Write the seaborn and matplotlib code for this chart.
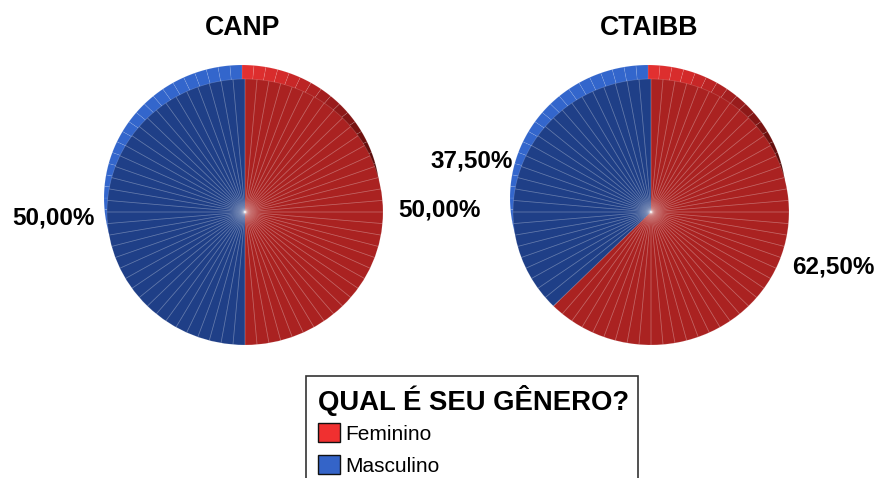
import matplotlib
matplotlib.use("Agg")
import matplotlib.pyplot as plt
import seaborn as sns
from matplotlib.colors import LinearSegmentedColormap
from matplotlib.patches import Patch, Rectangle

# data
titles = ["CANP", "CTAIBB"]
categories = ["Feminino", "Masculino"]
canp_values = [50.0, 50.0]
ctaibb_values = [62.5, 37.5]
canp_labels = ["50,00%", "50,00%"]
ctaibb_labels = ["62,50%", "37,50%"]
legend_title = "QUAL É SEU GÊNERO?"

W, H = 877, 478
sns.set_theme(style="white")
plt.rcParams["font.family"] = ["Liberation Sans", "DejaVu Sans"]

face_colors = sns.color_palette(["#AA2221", "#1F3F87"])
swatch_colors = sns.color_palette(["#F03030", "#3464C8"])
wall_blue = "#3366CC"
wall_red = LinearSegmentedColormap.from_list(
    "wall", [(0, "#E23030"), (0.08, "#D42A2A"), (0.2, "#A01E1E"), (0.3, "#7A1412"),
             (0.42, "#4E0A08"), (0.55, "#7A1412"), (0.7, "#AA2221"), (1, "#AA2221")])

fig = plt.figure(figsize=(W / 100, H / 100), dpi=100)
RX, RY = 138, 133
PAD = 1.25
SLICES = 72
spoke = (1, 1, 1, 0.17)


def px_text(x, y, s, **kw):
    fig.text(x / W, 1 - y / H, s, color="#000000", va="center", **kw)


def draw_pie(cx, cy, values, title, labels, label_xy):
    ax = fig.add_axes([(cx - RX * PAD) / W, 1 - (cy + RY * PAD) / H,
                       2 * RX * PAD / W, 2 * RY * PAD / H])
    red_n = round(values[0] / 100 * SLICES)
    wall_cols = [wall_red(min(i / 36, 1.0)) if i < 36 else
                 (wall_blue if i >= red_n else "#AA2221") for i in range(SLICES)]
    # side wall seen behind the top face
    ax.pie([1] * SLICES, colors=wall_cols, startangle=90, counterclock=False,
           center=(-3 / RX, 14 / RY),
           wedgeprops=dict(edgecolor=(1, 1, 1, 0.12), linewidth=0.5))
    # top face
    ax.pie(values, colors=face_colors, startangle=90, counterclock=False,
           wedgeprops=dict(linewidth=0))
    # facet lines
    ax.pie([1] * SLICES, colors=["none"], startangle=90, counterclock=False,
           wedgeprops=dict(edgecolor=spoke, linewidth=0.55))
    ax.set_aspect("auto")
    ax.set_xlim(-PAD, PAD)
    ax.set_ylim(-PAD, PAD)
    ax.axis("off")
    px_text(cx - 2, 28, title, fontsize=19.2, fontweight="bold", ha="center")
    for s, (x, y) in zip(labels, label_xy):
        px_text(x, y, s, fontsize=17.5, fontweight="bold", ha="left")


draw_pie(245, 212, canp_values, titles[0], canp_labels, [(398, 210), (12, 218)])
draw_pie(651, 212, ctaibb_values, titles[1], ctaibb_labels, [(792, 267), (430, 161)])

# legend frame runs past the bottom of the picture
fig.add_artist(Rectangle((306 / W, -0.05), 332 / W, 0.05 + 1 - 376 / H,
                         transform=fig.transFigure, facecolor="white",
                         edgecolor="#333333", linewidth=1.2))
handles = [Patch(facecolor=c, edgecolor="#111111", linewidth=1.0) for c in swatch_colors]
leg = fig.legend(handles, categories, loc="upper left",
                 bbox_to_anchor=(318 / W, 1 - 385 / H), frameon=False,
                 borderaxespad=0, borderpad=0, alignment="left",
                 fontsize=15, handlelength=1.05, handleheight=1.05,
                 handletextpad=0.25, labelspacing=0.55,
                 title=legend_title,
                 title_fontproperties=dict(size=19.8, weight="bold", family="Liberation Sans"))
leg.set_zorder(5)
leg._legend_box.sep = 5
leg.get_title().set_color("#000000")
for t in leg.get_texts():
    t.set_color("#000000")
fig.savefig("out.png", dpi=100)
